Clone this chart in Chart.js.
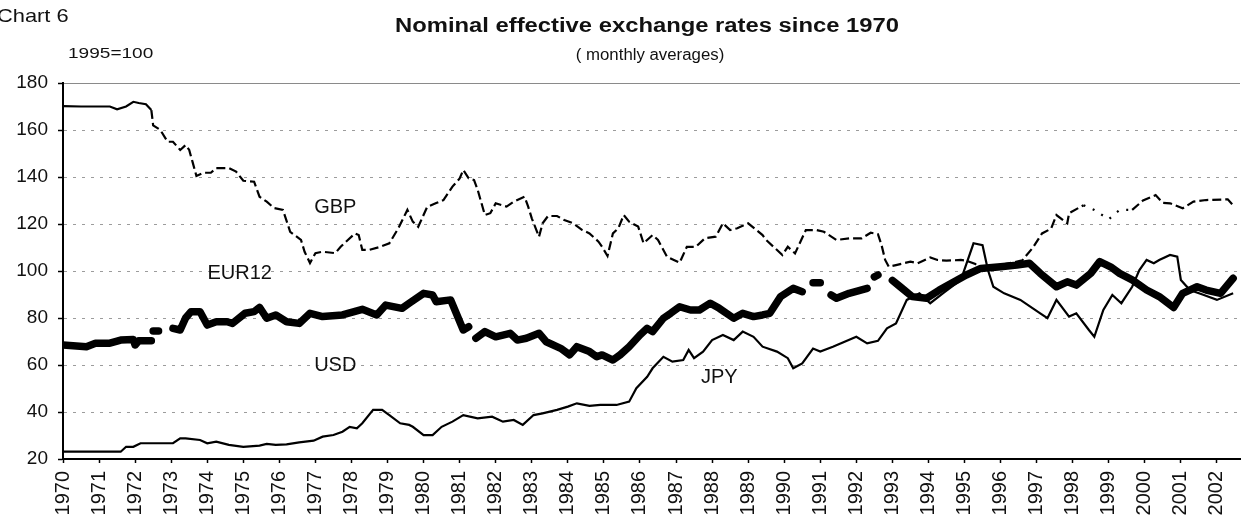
<!DOCTYPE html>
<html>
<head>
<meta charset="utf-8">
<script src="https://cdn.jsdelivr.net/npm/chart.js@4.4.1/dist/chart.umd.min.js"></script>
<style>
  html, body { margin: 0; padding: 0; background: #fff; }
  #marco { position: relative; width: 1243px; height: 516px; }
</style>
</head>
<body>
<div id="marco"><canvas id="graficoTipos"></canvas></div>
<script>
// ================== DATOS ==================
// Valores (1995 = 100), fecha en años decimales

const ticksY = [20, 40, 60, 80, 100, 120, 140, 160, 180];
const ticksX = [1970, 1971, 1972, 1973, 1974, 1975, 1976, 1977, 1978, 1979, 1980,
  1981, 1982, 1983, 1984, 1985, 1986, 1987, 1988, 1989, 1990, 1991,
  1992, 1993, 1994, 1995, 1996, 1997, 1998, 1999, 2000, 2001, 2002];

// GBP (linea fina, escaneada a trozos)
const gbpAnios = [1970.0, 1970.5, 1971.3, 1971.5, 1971.75, 1971.95, 1972.1, 1972.3, 1972.45, 1972.5,
  1972.7, 1972.9, 1973.05, 1973.25, 1973.4, 1973.5, 1973.6, 1973.7, 1973.9, 1974.1,
  1974.25, 1974.6, 1974.8, 1975.0, 1975.3, 1975.45, 1975.65, 1975.85, 1976.1, 1976.3,
  1976.6, 1976.7, 1976.85, 1977.0, 1977.2, 1977.55, 1977.7, 1977.9, 1978.1, 1978.2,
  1978.3, 1978.5, 1978.8, 1979.05, 1979.3, 1979.55, 1979.7, 1979.85, 1980.1, 1980.35,
  1980.55, 1980.8, 1981.0, 1981.1, 1981.25, 1981.4, 1981.5, 1981.7, 1981.85, 1982.0,
  1982.3, 1982.5, 1982.8, 1982.9, 1983.0, 1983.2, 1983.3, 1983.45, 1983.7, 1983.9,
  1984.15, 1984.4, 1984.6, 1984.85, 1984.95, 1985.1, 1985.25, 1985.4, 1985.55, 1985.7,
  1985.95, 1986.1, 1986.35, 1986.5, 1986.75, 1987.1, 1987.3, 1987.55, 1987.8, 1988.1,
  1988.3, 1988.5, 1988.7, 1989.0, 1989.4, 1989.5, 1989.95, 1990.1, 1990.3, 1990.6,
  1990.9, 1991.1, 1991.45, 1991.8, 1992.15, 1992.4, 1992.6, 1992.7, 1992.8, 1992.9,
  1993.1, 1993.5, 1993.7, 1994.05, 1994.25, 1994.5, 1994.9, 1995.05, 1995.3, 1995.5,
  1995.8, 1996.3, 1996.6, 1996.9, 1997.15, 1997.4, 1997.55, 1997.85, 1997.9, 1998.3,
  1998.6, 1999.0, 1999.3, 1999.65, 1999.95, 2000.3, 2000.5, 2000.7, 2001.05, 2001.35,
  2001.7, 2002.3, 2002.45];
const gbpValores = [170.2, 170, 170, 168.8, 170, 172, 171.5, 171, 168.5, 162,
  160, 155, 155, 151.5, 153.6, 151.5, 146, 140.4, 141.8, 141.8,
  143.8, 143.8, 142.3, 138.4, 138, 131.6, 129.5, 126.8, 126, 116.7,
  113.2, 108.2, 103.4, 107.6, 108.2, 107.6, 110.3, 113.2, 116, 115.3,
  109, 109, 110.3, 111.8, 118.2, 126, 121, 118.8, 127.3, 128.9,
  130.2, 135.9, 139.4, 143, 139.4, 138.7, 134.5, 123.8, 124.6, 128.8,
  127.4, 129.5, 131.6, 127.4, 122.4, 114.6, 120.3, 123.4, 123.4, 121.7,
  120.3, 117.4, 116, 112.5, 110.3, 106.4, 116, 118.2, 123.8, 121,
  118.9, 111.8, 115.3, 113.2, 106.1, 103.5, 110.3, 110.3, 113.9, 114.6,
  120.3, 117.4, 118.2, 120.3, 115.3, 113.2, 106.8, 110.3, 107.5, 117.4,
  117.4, 116.7, 113.2, 113.9, 113.9, 116.3, 115.7, 111, 104.7, 101.8,
  102.5, 104, 103.3, 105.8, 104.7, 104.4, 104.7, 104.4, 103, 100,
  102, 103.5, 104.5, 110, 116, 118, 123.8, 120.3, 124.6, 128,
  126, 122, 126, 126, 130, 132.3, 129, 128.8, 126.7, 129.5,
  130.2, 130.5, 128];

// EUR12 (linea gruesa, null = hueco)
const eurAnios = [1970.0, 1970.65, 1970.9, 1971.3, 1971.6, 1971.95, 1972.0, 1972.1, 1972.45, 1972.47,
  1972.5, 1972.65, 1972.8, 1973.05, 1973.25, 1973.4, 1973.55, 1973.8, 1974.0, 1974.25,
  1974.55, 1974.7, 1975.05, 1975.3, 1975.45, 1975.65, 1975.9, 1976.2, 1976.55, 1976.85,
  1977.2, 1977.75, 1978.3, 1978.7, 1978.95, 1979.4, 1979.6, 1980.0, 1980.25, 1980.35,
  1980.75, 1981.1, 1981.25, 1981.35, 1981.45, 1981.7, 1982.0, 1982.4, 1982.6, 1982.85,
  1983.2, 1983.4, 1983.8, 1984.05, 1984.25, 1984.6, 1984.8, 1984.95, 1985.25, 1985.45,
  1985.7, 1986.0, 1986.2, 1986.35, 1986.65, 1986.85, 1987.1, 1987.4, 1987.65, 1987.95,
  1988.2, 1988.6, 1988.85, 1989.15, 1989.4, 1989.6, 1989.9, 1990.25, 1990.5, 1990.65,
  1990.8, 1991.0, 1991.15, 1991.3, 1991.45, 1991.8, 1992.3, 1992.4, 1992.5, 1992.6,
  1992.8, 1993.0, 1993.2, 1993.55, 1993.95, 1994.3, 1994.8, 1995.05, 1995.45, 1996.0,
  1996.45, 1996.8, 1997.1, 1997.55, 1997.85, 1998.1, 1998.5, 1998.75, 1999.05, 1999.3,
  1999.65, 2000.05, 2000.4, 2000.8, 2001.05, 2001.45, 2001.7, 2002.1, 2002.45];
const eurValores = [68.5, 67.8, 69.3, 69.3, 70.6, 70.9, 68.5, 70.3, 70.3, null,
  74.5, 74.5, null, 75.6, 74.9, 80, 82.7, 82.7, 77, 78.4,
  78.4, 77.7, 82, 82.7, 84.5, 79.9, 81.3, 78.4, 77.7, 82,
  80.6, 81.3, 83.7, 81.3, 85.5, 84.1, 86.3, 90.5, 89.8, 86.9,
  87.7, 74.9, 76.3, null, 71.4, 74.2, 72, 73.5, 70.6, 71.4,
  73.5, 69.9, 67.1, 64.3, 67.8, 65.7, 63.5, 64.3, 62.1, 64.3,
  67.8, 72.8, 75.6, 74.2, 79.9, 82, 84.8, 83.4, 83.4, 86.3,
  84.1, 79.9, 82, 80.6, 81.3, 82, 89.1, 92.6, 91.2, null,
  95, 95, null, 89.8, 88.4, 90.5, 92.6, null, 97.5, 98.3,
  null, 96, 93.5, 89.1, 88.4, 91.9, 96.2, 98.3, 101.1, 101.8,
  102.5, 103.3, 99, 93.3, 95.4, 94, 99, 104, 101.8, 99,
  96.2, 91.9, 89.1, 84.5, 90.5, 93.3, 91.9, 90.5, 96.9];

// JPY (linea fina)
const jpyAnios = [1970.0, 1971.6, 1971.75, 1971.95, 1972.15, 1973.05, 1973.25, 1973.4, 1973.8, 1974.0,
  1974.25, 1974.6, 1975.0, 1975.45, 1975.65, 1975.9, 1976.2, 1976.55, 1976.95, 1977.2,
  1977.5, 1977.75, 1977.95, 1978.15, 1978.3, 1978.6, 1978.85, 1979.05, 1979.35, 1979.6,
  1979.7, 1980.0, 1980.25, 1980.5, 1980.8, 1981.1, 1981.5, 1981.9, 1982.2, 1982.5,
  1982.75, 1983.05, 1983.3, 1983.7, 1984.0, 1984.25, 1984.6, 1984.9, 1985.35, 1985.7,
  1985.9, 1986.2, 1986.35, 1986.65, 1986.9, 1987.2, 1987.35, 1987.5, 1987.75, 1988.0,
  1988.3, 1988.6, 1988.85, 1989.15, 1989.4, 1989.8, 1990.1, 1990.25, 1990.5, 1990.8,
  1991.0, 1991.35, 1992.0, 1992.3, 1992.6, 1992.85, 1993.1, 1993.4, 1993.75, 1994.05,
  1994.4, 1994.9, 1995.25, 1995.5, 1995.65, 1995.8, 1996.1, 1996.55, 1997.1, 1997.3,
  1997.55, 1997.9, 1998.1, 1998.45, 1998.6, 1998.85, 1999.1, 1999.35, 1999.65, 1999.85,
  2000.05, 2000.25, 2000.4, 2000.7, 2000.9, 2001.0, 2001.25, 2001.6, 2002.0, 2002.45];
const jpyValores = [23.1, 23.1, 25.2, 25.2, 26.7, 26.7, 28.8, 28.8, 28.1, 26.7,
  27.4, 26, 25.2, 25.7, 26.4, 26, 26.2, 27.1, 27.8, 29.5,
  30.2, 31.6, 33.7, 33.1, 35.2, 40.9, 40.9, 38.7, 35.2, 34.5,
  33.7, 30.2, 30.2, 33.7, 35.9, 38.7, 37.3, 38, 35.9, 36.6,
  34.5, 38.7, 39.4, 40.9, 42.3, 43.7, 42.6, 43, 43, 44.4,
  50.1, 55, 58.6, 63.5, 61.4, 62.1, 66.4, 62.9, 65.7, 70.6,
  72.8, 70.6, 74.2, 72, 67.8, 65.7, 62.9, 58.6, 60.7, 67,
  65.7, 67.8, 72, 69.2, 70.3, 75.6, 77.7, 87.7, 90.5, 86.3,
  90.5, 96.2, 111.8, 111, 100.4, 93.3, 90.5, 87.7, 82, 79.9,
  87.7, 80.6, 82, 74.9, 72, 83.4, 89.8, 86.3, 93.3, 100.4,
  104.7, 103.3, 104.7, 106.8, 106.1, 96.2, 91.9, 90, 87.7, 90.5];

// USD: en el escaneo no se distingue una linea propia (queda bajo la
// banda gruesa), asi que solo se rotula.

// Etiquetas de las series: [texto, año, valor]
const etiquetasSeries = [
  ["GBP", 1977.55, 127.2],
  ["EUR12", 1974.9, 99],
  ["USD", 1977.55, 60],
  ["JPY", 1988.2, 54.5]
];

// ================== UTILIDADES ==================

const FUENTE = '"Liberation Sans", Arial, sans-serif';

function puntos(anios, valores) {
  return anios.map((a, i) => ({ x: a, y: valores[i] }));
}

// Texto estirado en horizontal (el escaneo original es mas ancho)
function textoAncho(ctx, texto, x, y, fuente, escalaX, alinear) {
  ctx.save();
  ctx.font = fuente;
  ctx.fillStyle = "#111";
  ctx.textBaseline = "middle";
  ctx.textAlign = alinear || "center";
  ctx.translate(x, y);
  ctx.scale(escalaX, 1);
  ctx.fillText(texto, 0, 0);
  ctx.restore();
}

// ================== PLUGIN DE TEXTOS ==================

const textosPlugin = {
  id: "textos",
  afterDraw(chart) {
    const ctx = chart.ctx;
    textoAncho(ctx, "Chart 6", -3, 17, "19px " + FUENTE, 1.15, "left");
    textoAncho(ctx, "Nominal effective exchange rates since 1970", 647, 26, "bold 20px " + FUENTE, 1.19);
    textoAncho(ctx, "( monthly averages)", 650, 56, "16px " + FUENTE, 1.05);
    textoAncho(ctx, "1995=100", 68, 54, "15px " + FUENTE, 1.27, "left");

    const sx = chart.scales.x;
    const sy = chart.scales.y;
    ctx.save();
    ctx.font = "20px " + FUENTE;
    ctx.fillStyle = "#111";
    ctx.textAlign = "center";
    ctx.textBaseline = "middle";
    etiquetasSeries.forEach(([t, a, v]) => {
      ctx.fillText(t, sx.getPixelForValue(a), sy.getPixelForValue(v));
    });
    ctx.restore();
  }
};

// ================== GRAFICO ==================

const ctx = document.getElementById("graficoTipos").getContext("2d");

const grafico = new Chart(ctx, {
  type: "line",
  data: {
    datasets: [
      {
        label: "EUR12",
        data: puntos(eurAnios, eurValores),
        borderColor: "#000",
        borderWidth: 7.5,
        borderJoinStyle: "round",
        borderCapStyle: "round",
        pointRadius: 0,
        spanGaps: false
      },
      {
        label: "GBP",
        data: puntos(gbpAnios, gbpValores),
        borderColor: "#000",
        borderWidth: 2.2,
        pointRadius: 0,
        segment: {
          borderDash: c => {
            const x = c.p0.parsed.x;
            if (x < 1972.4) return [];
            if (x >= 1998.3 && x < 1999.6) return [2, 8];
            return [9, 4];
          }
        }
      },
      {
        label: "JPY",
        data: puntos(jpyAnios, jpyValores),
        borderColor: "#000",
        borderWidth: 2.2,
        pointRadius: 0
      }
    ]
  },
  options: {
    responsive: true,
    maintainAspectRatio: false,
    animation: false,
    layout: { padding: { top: 83, right: 3, left: 0, bottom: 0 } },
    plugins: {
      legend: { display: false },
      title: { display: false },
      tooltip: { enabled: false }
    },
    scales: {
      x: {
        type: "linear",
        min: 1970,
        max: 2002.64,
        // sin margen extra por la ultima etiqueta girada
        afterFit: s => { s.height = 57; s.paddingRight = 0; s.paddingLeft = 0; },
        afterBuildTicks: s => { s.ticks = ticksX.map(v => ({ value: v })); },
        ticks: {
          autoSkip: false,
          minRotation: 90,
          maxRotation: 90,
          padding: 8,
          color: "#111",
          font: { family: FUENTE, size: 20 },
          callback: v => String(v)
        },
        grid: {
          drawOnChartArea: false,
          drawTicks: true,
          tickLength: 4,
          tickColor: "#000",
          tickWidth: 1.5
        },
        border: { display: true, color: "#000", width: 2 }
      },
      y: {
        min: 20,
        max: 180,
        afterFit: s => { s.width = 63; },
        afterBuildTicks: s => { s.ticks = ticksY.map(v => ({ value: v })); },
        ticks: {
          padding: 10,
          color: "#111",
          font: { family: FUENTE, size: 19 }
        },
        grid: {
          color: c => (c.tick && c.tick.value === 20) ? "rgba(0,0,0,0)" :
                      (c.tick && c.tick.value === 180) ? "#8a8a8a" : "#9c9c9c",
          lineWidth: 1,
          tickLength: 5,
          tickColor: "#000",
          tickWidth: 1.5
        },
        border: {
          display: true,
          color: "#000",
          width: 2,
          dash: c => (c.tick && c.tick.value === 180) ? [] : [3, 6]
        }
      }
    }
  },
  plugins: [textosPlugin]
});
</script>
</body>
</html>
